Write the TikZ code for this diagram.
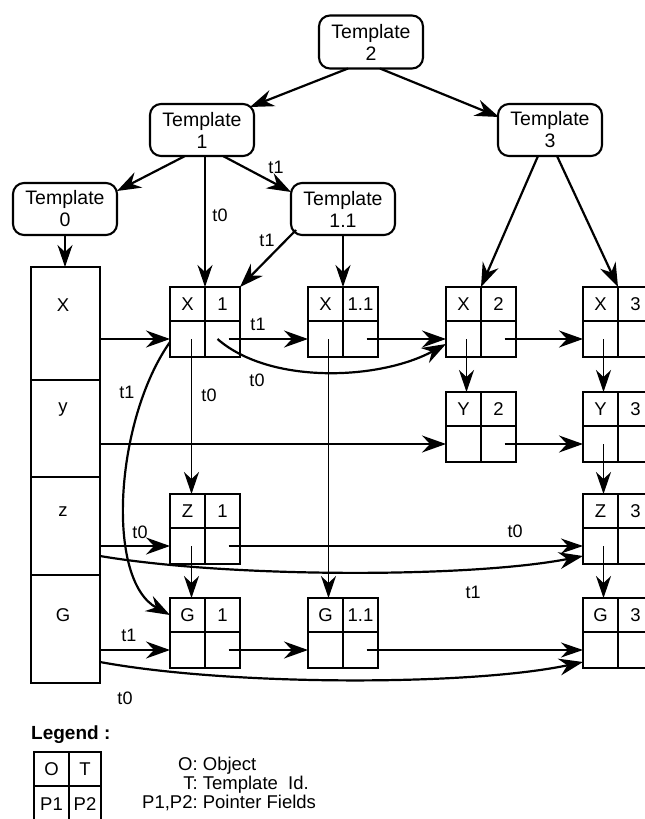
\documentclass[tikz,border=0pt]{standalone}
\usepackage{fontspec}
\setmainfont{Liberation Sans}
\usetikzlibrary{arrows.meta,calc}

% one object record: O and T on top, the two pointer fields below
\newcommand\objbox[5]{%
  \node[ocell] (#1o) at ({#2+17.5},{#3+17}) {#4};
  \node[ocell] (#1t) at ({#2+52.5},{#3+17}) {#5};
  \node[pcell] (#1a) at ({#2+17.5},{#3+52}) {};
  \node[pcell] (#1b) at ({#2+52.5},{#3+52}) {};
  \draw[boxedge] (#1o.north west) rectangle (#1b.south east);
}

\begin{document}
\begin{tikzpicture}[x=1pt,y=-1pt,
  tmpl/.style={draw, line width=2.1pt, rounded corners=11pt, minimum width=104pt,
    minimum height=52pt, align=center, inner sep=0pt, outer sep=0pt,
    font=\fontsize{19.5}{22}\selectfont},
  ocell/.style={draw, line width=1.3pt, minimum width=35pt, minimum height=34pt,
    inner sep=0pt, outer sep=0pt, font=\fontsize{18.5}{18}\selectfont},
  pcell/.style={ocell, minimum height=36pt},
  boxedge/.style={line width=2.1pt},
  colcell/.style={draw, line width=2.1pt, minimum width=69pt, inner sep=0pt, outer sep=0pt},
  coltext/.style={font=\fontsize{18.5}{18}\selectfont, inner sep=0pt},
  heavy/.style={line width=2.2pt, -{Stealth[length=24pt,width=17pt,inset=8pt]}},
  medium/.style={line width=1.8pt, -{Stealth[length=24pt,width=17pt,inset=8pt]}},
  light/.style={line width=1.2pt, -{Stealth[length=22pt,width=15pt,inset=7pt]}},
  lbl/.style={font=\fontsize{18}{18}\selectfont, inner sep=0pt},
]
\useasboundingbox (0,0) rectangle (645,819);
\fill[white] (0,0) rectangle (645,819);
\clip (0,0) rectangle (645,819);

% template hierarchy
\node[tmpl, minimum height=53pt] (T2) at (371,42) {Template\\2};
\node[tmpl] (T1) at (202,130) {Template\\1};
\node[tmpl] (T3) at (550,130) {Template\\3};
\node[tmpl] (T0) at (65,209) {Template\\0};
\node[tmpl] (T11) at (343,209) {Template\\1.1};

% variable column
\node[colcell, minimum height=113pt] (colX) at (65.5,323.5) {};
\node[colcell, minimum height=97pt] (coly) at (65.5,428.5) {};
\node[colcell, minimum height=98pt] (colz) at (65.5,526) {};
\node[colcell, minimum height=108pt] (colG) at (65.5,629) {};
\node[coltext] (colXt) at (63,305) {X};
\node[coltext] (colyt) at (63,410) {y};
\node[coltext] (colzt) at (63,512) {z};
\node[coltext] (colGt) at (63,615) {G};

% object records
\objbox{X1}{170}{287}{X}{1}
\objbox{X11}{308}{287}{X}{1.1}
\objbox{X2}{446}{287}{X}{2}
\objbox{X3}{583}{287}{X}{3}
\objbox{Y2}{446}{392}{Y}{2}
\objbox{Y3}{583}{392}{Y}{3}
\objbox{Z1}{170}{494}{Z}{1}
\objbox{Z3}{583}{494}{Z}{3}
\objbox{G1}{170}{598}{G}{1}
\objbox{G11}{308}{598}{G}{1.1}
\objbox{G3}{583}{598}{G}{3}

% template tree
\draw[heavy] ([xshift=-23pt]T2.south) -- ([xshift=-4pt,yshift=-3pt]T1.north east);
\draw[heavy] ([xshift=9pt]T2.south) -- ([xshift=1pt,yshift=-13pt]T3.north west);
\draw[heavy] ([xshift=-17pt]T1.south) -- ([yshift=-8pt]T0.north east);
\draw[heavy] ([xshift=21pt]T1.south) -- ([yshift=-9pt]T11.north west);

% templates to objects
\draw[light] (T1.south -| X1o.north east) -- (X1o.north east);
\draw[heavy] ([xshift=5pt,yshift=5pt]T11.south west) -- (X1t.north east);
\draw[light] (T11.south -| X11o.north east) -- (X11o.north east);
\draw[heavy] ([xshift=-12pt]T3.south) -- (X2o.north east);
\draw[heavy] ([xshift=7pt]T3.south) -- (X3o.north east);
\draw[light] (T0.south) -- (T0.south |- colX.north);

% variables to objects
\draw[medium] (colX.east |- X1a.west) -- (X1a.west);
\draw[medium] (coly.east |- Y2a.west) -- (Y2a.west);
\draw[medium] (colz.east |- Z1a.west) -- (Z1a.west);
\draw[medium] (colG.east |- G1a.west) -- (G1a.west);
\draw[heavy] ($(colz.east |- Z1a.west)+(0,10)$) .. controls (230,578) and (470,578) .. ($(Z3a.west)+(0,10)$);
\draw[heavy] ($(colG.east |- G1a.west)+(0,12)$) .. controls (230,686) and (470,686) .. ($(G3a.west)+(0,12)$);

% pointer fields
\draw[medium] ([xshift=6pt]X1b.center) -- (X11a.west);
\draw[medium] ([xshift=6pt]X11b.center) -- (X2a.west);
\draw[medium] ([xshift=6pt]X2b.center) -- (X3a.west);
\draw[heavy] ([xshift=-5pt]X1b.center) .. controls (270,385) and (380,380) .. ([yshift=-5pt]X2a.west);
\draw[medium] ([xshift=6pt]Y2b.center) -- (Y3a.west);
\draw[light] ([xshift=6pt]Z1b.center) -- (Z3a.west);
\draw[medium] ([xshift=6pt]G1b.center) -- (G11a.west);
\draw[light] ([xshift=6pt]G11b.center) -- (G3a.west);
\draw[light] ([xshift=3pt]X2a.center) -- ([xshift=3pt]Y2o.north);
\draw[light] ([xshift=3pt]X3a.center) -- ([xshift=3pt]Y3o.north);
\draw[light] ([xshift=3pt]Y3a.center) -- ([xshift=3pt]Z3o.north);
\draw[light] ([xshift=3pt]Z3a.center) -- ([xshift=3pt]G3o.north);
\draw[light] ([xshift=4pt]X1a.center) -- ([xshift=4pt]Z1o.north);
\draw[light] ([xshift=4pt]Z1a.center) -- ([xshift=4pt]G1o.north);
\draw[light] ([xshift=3pt]X11a.center) -- ([xshift=3pt]G11o.north);
\draw[heavy] ([yshift=-3pt]X1a.west) .. controls (115,420) and (105,580) .. (G1o.west);

% connector labels
\node[lbl] (l1) at (276,167) {t1};
\node[lbl] (l2) at (220,215) {t0};
\node[lbl] (l3) at (267,240) {t1};
\node[lbl] (l4) at (258,324) {t1};
\node[lbl] (l5) at (257,380) {t0};
\node[lbl] (l6) at (209,395) {t0};
\node[lbl] (l7) at (127,392) {t1};
\node[lbl] (l8) at (140,532) {t0};
\node[lbl] (l9) at (515,531) {t0};
\node[lbl] (l10) at (473,592) {t1};
\node[lbl] (l11) at (129,635) {t1};
\node[lbl] (l12) at (125,698) {t0};

% legend
\node[anchor=west, inner sep=0pt, font=\fontsize{19}{19}\selectfont\bfseries] (legtitle) at (31,735) {Legend :};
\node[ocell, minimum width=35pt] (Lo) at (51.5,769) {O};
\node[ocell, minimum width=32pt] (Lt) at (85,769) {T};
\node[pcell, minimum width=35pt] (La) at (51.5,804) {P1};
\node[pcell, minimum width=32pt] (Lb) at (85,804) {P2};
\draw[boxedge] (Lo.north west) rectangle (Lb.south east);
\node[anchor=west, inner sep=0pt, font=\fontsize{18.5}{18.5}\selectfont] (legtext) at (142,786)
  {\begin{tabular}{@{}r@{\ }l@{}}O: & Object\\ T: & Template\ \ Id.\\ P1,P2: & Pointer Fields\end{tabular}};
\end{tikzpicture}
\end{document}
